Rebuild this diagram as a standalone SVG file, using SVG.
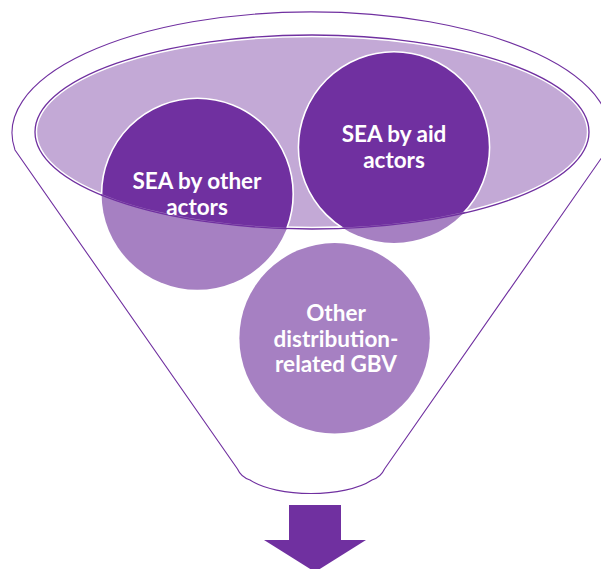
<svg xmlns="http://www.w3.org/2000/svg" xmlns:xlink="http://www.w3.org/1999/xlink" width="601" height="569" viewBox="0 0 601 569">
<style>
.funnel{fill:#ffffff;stroke:#7030A0;stroke-width:1.1}
.bowl{fill:#C3A9D6;stroke:#ffffff;stroke-width:2.4}
.rim{fill:none;stroke:#7030A0;stroke-width:1.3}
.light{fill:#A680C2}
.dark{fill:#7030A0;stroke:#ffffff;stroke-width:1.6}
.label{font-family:"Lato","Liberation Sans",sans-serif;font-weight:700;font-size:22.5px;fill:#ffffff;text-anchor:middle}
.arrow{fill:#7030A0}
</style>
<defs>
<ellipse id="bowlShape" cx="312" cy="132" rx="276" ry="96"/>
<clipPath id="inBowl"><use xlink:href="#bowlShape"/></clipPath>
<clipPath id="cOther"><circle cx="197.4" cy="194" r="96.5"/></clipPath>
<clipPath id="cAid"><circle cx="394" cy="147.3" r="96.5"/></clipPath>
</defs>
<g id="funnel">
<path class="funnel" d="M15,150 A299,121 0 1 1 607,150 L384.5,469 Q381,477 372,480 C345,498 277,498 250,480 Q241,477 237.5,469 Z"/>
<use class="bowl" xlink:href="#bowlShape"/>
<ellipse class="rim" cx="312" cy="132" rx="277" ry="97"/>
</g>
<g id="node-sea-other">
<circle class="light" cx="197.4" cy="194" r="95.8"/>
<circle class="dark" cx="197.4" cy="194" r="95.8" clip-path="url(#inBowl)"/>
<ellipse class="rim" cx="312" cy="132" rx="277" ry="97" clip-path="url(#cOther)"/>
<text class="label" x="197" y="189">SEA by other</text>
<text class="label" x="197" y="215">actors</text>
</g>
<g id="node-sea-aid">
<circle class="light" cx="394" cy="147.3" r="95.6"/>
<circle class="dark" cx="394" cy="147.3" r="95.6" clip-path="url(#inBowl)"/>
<ellipse class="rim" cx="312" cy="132" rx="277" ry="97" clip-path="url(#cAid)"/>
<text class="label" x="394" y="142">SEA by aid</text>
<text class="label" x="394" y="168">actors</text>
</g>
<g id="node-gbv">
<circle class="light" cx="334.6" cy="338.3" r="95.2"/>
<text class="label" x="336" y="321">Other</text>
<text class="label" x="336" y="346.5">distribution-</text>
<text class="label" x="336" y="372">related GBV</text>
</g>
<g id="connectors">
<polygon class="arrow" points="289,505 341,505 341,540 366,540 315,572 264,540 289,540"/>
</g>
</svg>
